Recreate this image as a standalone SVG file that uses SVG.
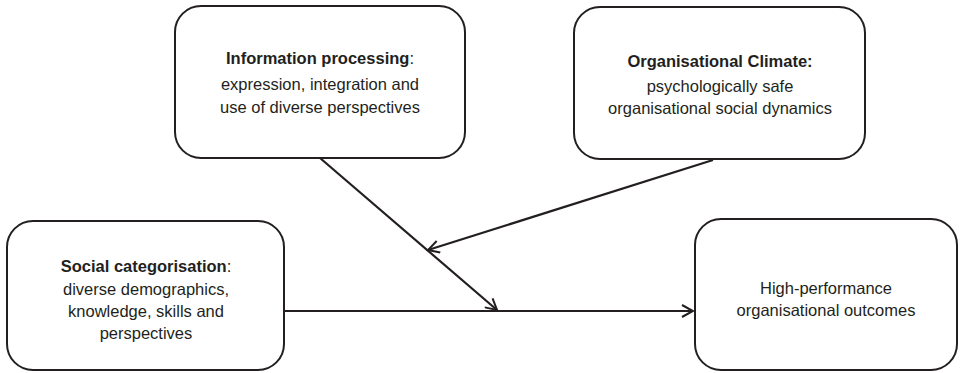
<svg xmlns="http://www.w3.org/2000/svg" width="964" height="373" viewBox="0 0 964 373">
<style>
.box{fill:#fff;stroke:#231f20;stroke-width:2}
text{font-family:"Liberation Sans","Open Sans",sans-serif;font-size:16.5px;fill:#231f20;text-anchor:middle}
.b{font-weight:bold}
.c{fill:none;stroke:#231f20;stroke-width:2.2}
</style>
<defs>
<marker id="ah" viewBox="0 0 14 14" refX="12" refY="7" markerWidth="14" markerHeight="14" markerUnits="userSpaceOnUse" orient="auto">
<path d="M1,1 L12,7 L1,13" fill="none" stroke="#231f20" stroke-width="2"/>
</marker>
</defs>
<rect width="964" height="373" fill="#fff"/>
<g id="info">
<rect class="box" x="175" y="6" width="290" height="152" rx="26"/>
<text x="320" y="64"><tspan class="b">Information processing</tspan>:</text>
<text x="320" y="90">expression, integration and</text>
<text x="320" y="113">use of diverse perspectives</text>
</g>
<g id="climate">
<rect class="box" x="574" y="7" width="291" height="152" rx="26"/>
<text x="720" y="67" class="b">Organisational Climate:</text>
<text x="720" y="92">psychologically safe</text>
<text x="720" y="114">organisational social dynamics</text>
</g>
<g id="social">
<rect class="box" x="7" y="221" width="277" height="149" rx="26"/>
<text x="146" y="272"><tspan class="b">Social categorisation</tspan>:</text>
<text x="146" y="295">diverse demographics,</text>
<text x="146" y="317">knowledge, skills and</text>
<text x="146" y="339">perspectives</text>
</g>
<g id="outcome">
<rect class="box" x="695" y="219" width="262" height="151" rx="26"/>
<text x="826" y="294">High-performance</text>
<text x="826" y="316">organisational outcomes</text>
</g>
<g id="connectors">
<line class="c" x1="284" y1="311" x2="693" y2="311" marker-end="url(#ah)"/>
<line class="c" x1="320" y1="158" x2="497" y2="310" marker-end="url(#ah)"/>
<line class="c" x1="713" y1="160" x2="428" y2="250" marker-end="url(#ah)"/>
</g>
</svg>
